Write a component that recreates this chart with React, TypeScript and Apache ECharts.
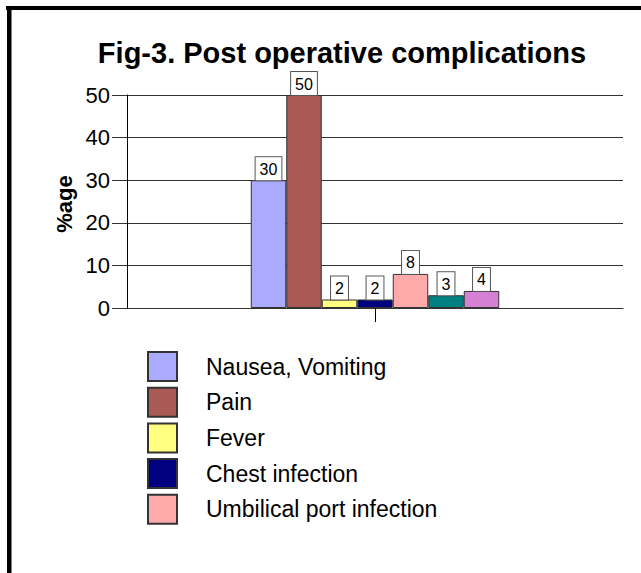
import React, { useEffect, useRef } from "react";
import * as echarts from "echarts";

const categories = [""];
const seriesNames = [
  "Nausea, Vomiting",
  "Pain",
  "Fever",
  "Chest infection",
  "Umbilical port infection",
  "Port site hernia",
  "Other",
];
const legendNames = seriesNames.slice(0, 5);
const values = [30, 50, 2, 2, 8, 3, 4];
const colors = ["#aaaaff", "#a95a54", "#ffff80", "#000080", "#ffaaaa", "#008080", "#d580d5"];
const yTicks = { min: 0, max: 50, interval: 10 };

export default function App() {
  const ref = useRef<HTMLDivElement>(null);
  useEffect(() => {
    if (!ref.current) return;
    const chart = echarts.init(ref.current, null, { renderer: "svg" });
    const font = "'Liberation Sans', Arial, sans-serif";
    chart.setOption({
      animation: false,
      backgroundColor: "#ffffff",
      title: {
        text: "Fig-3. Post operative complications",
        left: 342,
        top: 38,
        textAlign: "center",
        padding: 0,
        textStyle: { fontFamily: font, fontSize: 29, fontWeight: "bold", color: "#000" },
      },
      legend: {
        data: legendNames,
        orient: "vertical",
        left: 147,
        top: 351,
        itemWidth: 29,
        itemHeight: 29,
        itemGap: 4.7,
        padding: 0,
        icon: "rect",
        textStyle: { fontFamily: font, fontSize: 23, color: "#000", padding: [0, 0, 0, 24] },
      },
      grid: { left: 127, right: 18, top: 95, bottom: 265, containLabel: false },
      xAxis: {
        type: "category",
        data: categories,
        axisLine: { show: true, lineStyle: { color: "#333", width: 1 } },
        axisTick: { show: true, alignWithLabel: true, length: 14, lineStyle: { color: "#000" } },
        axisLabel: { show: false },
      },
      yAxis: {
        type: "value",
        min: yTicks.min,
        max: yTicks.max,
        interval: yTicks.interval,
        axisLine: { show: true, lineStyle: { color: "#000", width: 1 } },
        axisTick: { show: true, length: 15, lineStyle: { color: "#333" } },
        axisLabel: { fontFamily: font, fontSize: 22, color: "#000", margin: 17 },
        splitLine: { show: true, lineStyle: { color: "#333", width: 1 } },
      },
      series: seriesNames.map((name, i) => ({
        name,
        type: "bar",
        data: [values[i]],
        barWidth: 35.5,
        barGap: "0%",
        itemStyle: { color: colors[i], borderColor: "#333", borderWidth: 1 },
        label: {
          show: true,
          position: "top",
          distance: 0,
          fontFamily: font,
          fontSize: 16,
          color: "#000",
          backgroundColor: "#fff",
          borderColor: "#555",
          borderWidth: 1,
          padding: [4, 4, 3, 4],
        },
      })),
      graphic: [
        { type: "rect", shape: { x: 6, y: 6, width: 635, height: 4 }, style: { fill: "#000" } },
        { type: "rect", shape: { x: 7, y: 6, width: 4.5, height: 567 }, style: { fill: "#000" } },
        {
          type: "text",
          x: 64,
          y: 204,
          rotation: Math.PI / 2,
          style: {
            text: "%age",
            fontFamily: font,
            fontSize: 22,
            fontWeight: "bold",
            fill: "#000",
            textAlign: "center",
            textVerticalAlign: "middle",
          },
        },
      ],
    });
    return () => chart.dispose();
  }, []);
  return (
    <div
      ref={ref}
      style={{ position: "fixed", left: 0, top: 0, width: 641, height: 573 }}
    />
  );
}
